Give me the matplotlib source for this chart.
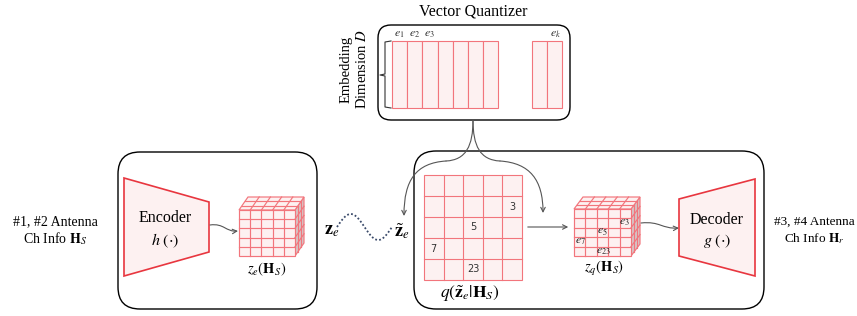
import matplotlib
matplotlib.use("Agg")
import matplotlib.pyplot as plt
from matplotlib.patches import FancyBboxPatch, Polygon, Rectangle, FancyArrowPatch
from matplotlib.path import Path
import numpy as np

plt.rcParams['mathtext.fontset'] = 'stix'
SERIF = 'Liberation Serif'

# ---- data ----
codebook_labels = [r'$e_1$', r'$e_2$', r'$e_3$']
codebook_last = r'$e_k$'
n_code_left = 7
n_code_right = 2
grid_n = 5
grid_codes = [3, 5, 7, 23]
grid_cells = [(1, 4), (2, 2), (3, 0), (4, 2)]   # (row, col)
quant_labels = [r'$e_3$', r'$e_5$', r'$e_7$', r'$e_{23}$']

RED = '#e8363f'
LRED = '#f2757c'
FILL = '#fdf1f1'
SIDE = '#d6c6c6'
GRAY = '#555555'

fig = plt.figure(figsize=(8.57, 3.16), dpi=100)
ax = fig.add_axes([0, 0, 1, 1])
ax.set_xlim(0, 857)
ax.set_ylim(316, 0)
ax.axis('off')


def rbox(x0, y0, x1, y1, r=14):
    ax.add_patch(FancyBboxPatch((x0, y0), x1 - x0, y1 - y0,
                                boxstyle=f"round,pad=0,rounding_size={r}",
                                fc='white', ec='black', lw=1.0))


def curve(verts, arrow=True, color=GRAY, lw=0.8):
    codes = [Path.MOVETO] + [Path.CURVE4] * (len(verts) - 1)
    p = Path(verts, codes)
    ax.add_patch(FancyArrowPatch(path=p, arrowstyle='->' if arrow else '-',
                                 mutation_scale=8, color=color, lw=lw))


def cube(x0, y0, w, h, dx, dy, nx=5, ny=5, nd=3):
    lw = 0.85
    # side face
    ax.add_patch(Polygon([(x0 + w, y0), (x0 + w + dx, y0 - dy),
                          (x0 + w + dx, y0 + h - dy), (x0 + w, y0 + h)],
                         closed=True, fc=SIDE, ec=LRED, lw=lw))
    for k in range(1, nd):
        f = k / nd
        ax.plot([x0 + w + dx * f] * 2, [y0 - dy * f, y0 + h - dy * f], color=LRED, lw=lw)
    for j in range(1, ny):
        yy = y0 + h * j / ny
        ax.plot([x0 + w, x0 + w + dx], [yy, yy - dy], color=LRED, lw=lw)
    # top face
    ax.add_patch(Polygon([(x0, y0), (x0 + w, y0), (x0 + w + dx, y0 - dy), (x0 + dx, y0 - dy)],
                         closed=True, fc=FILL, ec=LRED, lw=lw))
    for k in range(1, nd):
        f = k / nd
        ax.plot([x0 + dx * f, x0 + w + dx * f], [y0 - dy * f] * 2, color=LRED, lw=lw)
    for i in range(1, nx):
        xx = x0 + w * i / nx
        ax.plot([xx, xx + dx], [y0, y0 - dy], color=LRED, lw=lw)
    # front face
    ax.add_patch(Rectangle((x0, y0), w, h, fc=FILL, ec=LRED, lw=lw))
    for i in range(1, nx):
        xx = x0 + w * i / nx
        ax.plot([xx, xx], [y0, y0 + h], color=LRED, lw=lw)
    for j in range(1, ny):
        yy = y0 + h * j / ny
        ax.plot([x0, x0 + w], [yy, yy], color=LRED, lw=lw)


def text(x, y, s, size=10.5, **kw):
    ax.text(x, y, s, ha='center', va='center', fontsize=size, family=SERIF, **kw)


# ---- Vector quantizer ----
text(473, 11, 'Vector Quantizer', size=11.5)
rbox(378, 25, 570, 120, r=13)
cw = 15.2
for i in range(n_code_left):
    ax.add_patch(Rectangle((392 + i * cw, 41), cw, 67, fc=FILL, ec=LRED, lw=0.8))
for i in range(n_code_right):
    ax.add_patch(Rectangle((532 + i * cw, 41), cw, 67, fc=FILL, ec=LRED, lw=0.8))
for i, lab in enumerate(codebook_labels):
    text(399 + cw * i, 34, lab, size=8.5, color='#333333')
text(556, 34, codebook_last, size=8.5, color='#333333')
# brace
ax.plot([391, 385, 385, 380, 385, 385, 391], [41, 42, 74, 75, 76, 107, 108], color='#333333', lw=0.8)
ax.text(346, 69, 'Embedding', rotation=90, ha='center', va='center', fontsize=10.5, family=SERIF)
ax.text(362, 69, r'Dimension $D$', rotation=90, ha='center', va='center', fontsize=10.5, family=SERIF)

# ---- encoder box ----
rbox(118, 152, 317, 309, r=22)
ax.add_patch(Polygon([(124, 178), (209, 202), (209, 252), (124, 276)], closed=True,
                     fc=FILL, ec=RED, lw=1.2))
text(165, 218, 'Encoder', size=11.5)
text(165, 241, r'$h\ (\cdot)$', size=11.5)
curve([(210, 225), (224, 223), (226, 232), (238, 231)])
cube(239, 210, 56, 46, 9, 13)
text(267, 269, r'$z_e(\mathbf{H}_S)$', size=10.5)

# ---- left text ----
text(55, 222, '#1, #2 Antenna', size=10)
text(55, 239, r'Ch Info $\mathbf{H}_S$', size=10)

# ---- wavy transmission ----
ax.text(332, 230, r'$\mathbf{z}_e$', ha='center', va='center', fontsize=13)
xs = np.linspace(337, 392, 60)
ys = 227 - 13 * np.sin((xs - 337) / (392 - 337) * 2 * np.pi)
ax.plot(xs, ys, color='#3a4a6a', lw=1.3, ls=(0, (1, 1.2)))
ax.text(402, 231, r'$\tilde{\mathbf{z}}_e$', ha='center', va='center', fontsize=13)

# ---- decoder box ----
rbox(414, 151, 764, 309, r=22)
g0x, g0y, gw, gh = 424, 175, 98, 105
cwg, chg = gw / grid_n, gh / grid_n
ax.add_patch(Rectangle((g0x, g0y), gw, gh, fc=FILL, ec=LRED, lw=0.8))
for i in range(1, grid_n):
    ax.plot([g0x + i * cwg] * 2, [g0y, g0y + gh], color=LRED, lw=0.8)
    ax.plot([g0x, g0x + gw], [g0y + i * chg] * 2, color=LRED, lw=0.8)
for code, (r, c) in zip(grid_codes, grid_cells):
    ax.text(g0x + (c + 0.5) * cwg, g0y + (r + 0.5) * chg, str(code), ha='center', va='center',
            fontsize=7, family='DejaVu Sans', color='#333333')
text(470, 294, r'$q(\tilde{\mathbf{z}}_e|\mathbf{H}_S)$', size=12.5)

ax.annotate('', xy=(571, 227), xytext=(525, 227),
            arrowprops=dict(arrowstyle='->', color=GRAY, lw=0.8, mutation_scale=8))

cube(574, 209, 57, 47, 9, 12)
qpos = [(624, 222), (602, 231), (580, 241), (603, 251)]
for lab, (x, y) in zip(quant_labels, qpos):
    text(x, y, lab, size=8.5, color='#222222')
text(604, 269, r'$z_q(\mathbf{H}_S)$', size=10.5)

curve([(641, 223), (660, 221), (662, 229), (679, 228)])
ax.add_patch(Polygon([(679, 199), (755, 179), (755, 276), (679, 256)], closed=True,
                     fc=FILL, ec=RED, lw=1.2))
text(717, 220, 'Decoder', size=11.5)
text(717, 241, r'$g\ (\cdot)$', size=11.5)

text(814, 222, '#3, #4 Antenna', size=9.5)
text(814, 239, r'Ch Info $\mathbf{H}_r$', size=9.5)

# ---- quantizer lookups ----
curve([(473, 120), (473, 146), (466, 160), (446, 161)], arrow=False)
curve([(446, 161), (416, 163), (404, 180), (404, 216)])
curve([(473, 120), (473, 146), (480, 160), (500, 161)], arrow=False)
curve([(500, 161), (530, 163), (543, 180), (543, 213)])

fig.savefig('out.png', dpi=100)
